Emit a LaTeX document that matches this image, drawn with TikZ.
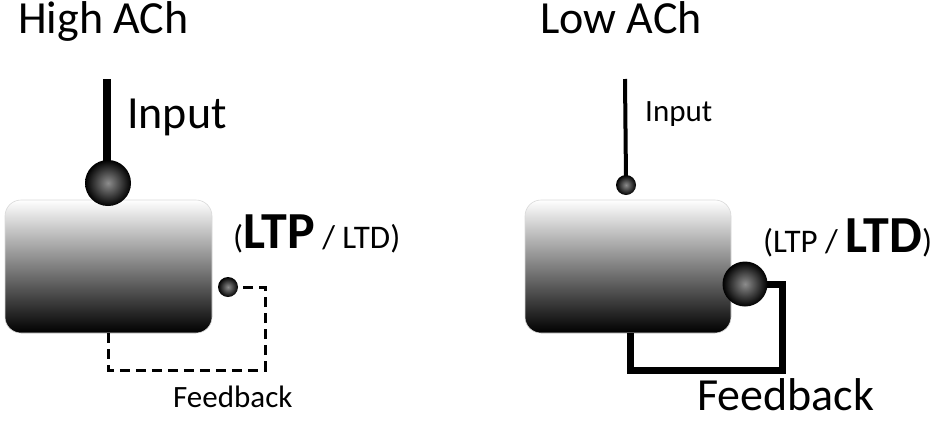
\documentclass[tikz,border=0pt]{standalone}
\usepackage{fontspec}
\setmainfont{Carlito}
\newcommand{\bigtxt}{\fontsize{46}{50}\selectfont}
\newcommand{\smalltxt}{\fontsize{31}{34}\selectfont}
\newcommand{\midtxt}{\fontsize{33}{36}\selectfont}
\newcommand{\boldtxt}{\fontsize{52}{56}\selectfont\bfseries}
\begin{document}
\begin{tikzpicture}[x=1pt,y=-1pt,
  cell/.style={rounded corners=16pt, top color=white, bottom color=black,
    middle color=black!50, minimum width=207pt, minimum height=133pt,
    inner sep=0pt, draw=black!15, line width=0.6pt},
  syn/.style={circle, inner sep=0pt, inner color=black!45, outer color=black},
  lbl/.style={anchor=base west, inner sep=0pt, text=black},
  dashfb/.style={line width=3pt, dash pattern=on 10pt off 6pt},
  solidfb/.style={line width=7pt, line join=miter},
]
\useasboundingbox (0,0) rectangle (945,421);
% titles
\node[lbl] (titleA) at (18,33) {\bigtxt High ACh};
\node[lbl] (titleB) at (540,33) {\bigtxt Low ACh};

% ---------- High ACh ----------
\coordinate (inA) at (107,79);
\coordinate (fbA1) at (265,287);
\coordinate (fbA2) at (265,370);
\coordinate (fbA3) at (108.5,370);
\node[cell] (boxA) at (108.5,266.5) {};
\draw[dashfb] (boxA.south) -- (fbA3) -- (fbA2) -- (fbA1) -- (228,287);
\draw[line width=8pt] (inA) -- (107,170);
\node[syn, minimum size=46pt] (ballA) at (108,183) {};
\node[syn, minimum size=20pt] (fbA) at (228,287) {};
\node[lbl] (inputA) at (127,128) {\bigtxt Input};
\node[lbl] (ltpA) at (233,248) {{\midtxt (}{\boldtxt LTP}{\midtxt\ / LTD)}};
\node[lbl] (feedA) at (173,407) {\smalltxt Feedback};

% ---------- Low ACh ----------
\coordinate (inB) at (625,79);
\coordinate (fbB1) at (782,284);
\coordinate (fbB2) at (782,370);
\coordinate (fbB3) at (630,370);
\node[cell, minimum width=206pt] (boxB) at (628,266.5) {};
\draw[solidfb] (fbB3 |- boxB.south) -- (fbB3) -- (fbB2) -- (fbB1) -- (745,284);
\draw[line width=4pt] (inB) -- (626,180);
\node[syn, minimum size=20pt] (ballB) at (626,185) {};
\node[syn, minimum size=45pt] (fbB) at (745,284) {};
\node[lbl] (inputB) at (645,121) {\smalltxt Input};
\node[lbl] (ltdB) at (763,252) {{\midtxt (LTP /\ }{\boldtxt LTD}{\midtxt )}};
\node[lbl, text depth=0pt] (feedB) at (697,410) {\bigtxt Feedback};
\end{tikzpicture}
\end{document}
